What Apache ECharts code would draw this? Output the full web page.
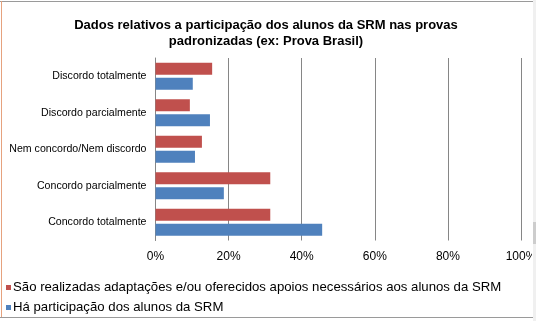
<!DOCTYPE html>
<html><head><meta charset="utf-8">
<script src="https://cdn.jsdelivr.net/npm/echarts@6/dist/echarts.min.js"></script>
<style>
html,body{margin:0;padding:0;background:#fff;width:536px;height:321px;overflow:hidden;}
#c{position:absolute;left:0;top:0;width:532px;height:321px;}
.ln{position:absolute;}
</style></head>
<body>
<div id="c"></div>
<div class="ln" style="left:0;top:1px;width:533px;height:1px;background:#9a9a9a"></div>
<div class="ln" style="left:1px;top:1px;width:1px;height:317px;background:#e6a27e"></div>
<div class="ln" style="left:0;top:317px;width:533px;height:1px;background:#9a9a9a"></div>
<div class="ln" style="left:533px;top:0;width:3px;height:321px;background:#f0f0f0"></div>
<div class="ln" style="left:533px;top:222px;width:3px;height:22px;background:#cdcdcd"></div>
<script>
const categories = ['Discordo totalmente','Discordo parcialmente','Nem concordo/Nem discordo','Concordo parcialmente','Concordo totalmente'];
const seriesNames = ['São realizadas adaptações e/ou oferecidos apoios necessários aos alunos da SRM','Há participação dos alunos da SRM'];
const adaptacoes = [15.5, 9.4, 12.7, 31.4, 31.4];
const participacao = [10.2, 14.9, 10.8, 18.7, 45.6];
const titleLines = ['Dados relativos a participação dos alunos da SRM nas provas','padronizadas (ex: Prova Brasil)'];

const chart = echarts.init(document.getElementById('c'));
const font = 'Liberation Sans, Arial, sans-serif';
const legendBase = {orient:'vertical', left:1, itemWidth:5, itemHeight:5, icon:'rect', itemGap:4,
    textStyle:{fontFamily:font,fontSize:13.2,color:'#000',padding:[0,0,0,-3]}};
chart.setOption({
  animation:false,
  title:{text:titleLines.join('\n'), left:261, top:12, textAlign:'center',
    textStyle:{fontFamily:font,fontSize:13,fontWeight:'bold',color:'#000',lineHeight:16}},
  grid:{left:155.5, right:11, top:58, bottom:80.5, containLabel:false, outerBoundsMode:'none'},
  legend:[
    Object.assign({}, legendBase, {top:276, data:[seriesNames[0]]}),
    Object.assign({}, legendBase, {top:296, data:[seriesNames[1]]})
  ],
  xAxis:{type:'value', min:0, max:100, interval:20,
    axisLabel:{formatter:'{value}%', fontFamily:font, fontSize:12, color:'#000', margin:10},
    splitLine:{lineStyle:{color:'#868686', width:1}},
    axisLine:{show:false}, axisTick:{show:false}},
  yAxis:{type:'category', data:categories, inverse:true,
    axisLabel:{fontFamily:font, fontSize:10.6, color:'#000', margin:9},
    axisLine:{show:true, lineStyle:{color:'#868686'}}, axisTick:{show:false}},
  series:[
    {name:seriesNames[0], type:'bar', data:adaptacoes, barWidth:12, barGap:'25%', itemStyle:{color:'#C0504D'}},
    {name:seriesNames[1], type:'bar', data:participacao, barWidth:12, barGap:'25%', itemStyle:{color:'#4F81BD'}}
  ]
});
</script>
</body></html>
